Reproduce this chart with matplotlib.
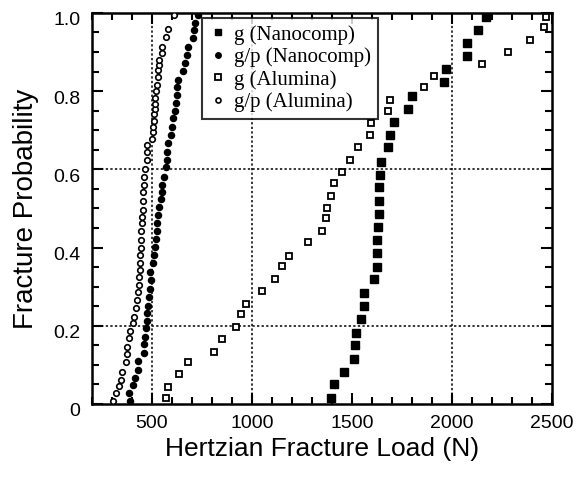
import matplotlib
matplotlib.use("Agg")
import matplotlib.pyplot as plt
import matplotlib.transforms as mtransforms
from matplotlib.ticker import MultipleLocator, FixedLocator

# g (Nanocomp) - filled squares
g_nano_load = [1395, 1412, 1458, 1509, 1514, 1522, 1543, 1560, 1562, 1612,
               1625, 1625, 1625, 1630, 1633, 1635, 1636, 1641, 1645, 1678,
               1692, 1708, 1781, 1801, 1958, 1970, 2075, 2075, 2130, 2172]
g_nano_prob = [0.015, 0.05, 0.083, 0.114, 0.15, 0.182, 0.217, 0.251, 0.283, 0.319,
               0.351, 0.385, 0.419, 0.452, 0.486, 0.518, 0.554, 0.586, 0.62, 0.657,
               0.688, 0.722, 0.754, 0.787, 0.824, 0.856, 0.89, 0.922, 0.957, 0.99]

# g/p (Nanocomp) - filled circles
gp_nano_load = [392, 387, 405, 417, 430, 430, 462, 463, 467, 472,
                478, 478, 483, 488, 492, 495, 492, 505, 512, 517,
                522, 525, 528, 533, 538, 545, 550, 553, 562, 572,
                575, 578, 583, 597, 603, 608, 617, 622, 625, 628,
                633, 655, 667, 675, 683, 708, 712, 717, 733]
gp_nano_prob = [0.008, 0.029, 0.049, 0.067, 0.087, 0.11, 0.13, 0.153, 0.172, 0.194,
                0.213, 0.232, 0.251, 0.274, 0.293, 0.317, 0.338, 0.36, 0.381, 0.402,
                0.421, 0.443, 0.462, 0.483, 0.505, 0.524, 0.543, 0.56, 0.581, 0.607,
                0.624, 0.645, 0.667, 0.688, 0.709, 0.731, 0.748, 0.769, 0.79, 0.81,
                0.829, 0.852, 0.871, 0.893, 0.914, 0.935, 0.957, 0.974, 0.995]

# g (Alumina) - open squares
g_alu_load = [570, 580, 637, 680, 810, 850, 921, 946, 970, 1052,
              1117, 1152, 1185, 1280, 1350, 1371, 1377, 1393, 1410, 1451,
              1491, 1530, 1591, 1597, 1680, 1692, 1858, 1908, 2150, 2278,
              2392, 2462, 2467]
g_alu_prob = [0.015, 0.043, 0.077, 0.107, 0.134, 0.166, 0.197, 0.229, 0.256, 0.29,
              0.319, 0.353, 0.379, 0.413, 0.442, 0.476, 0.501, 0.533, 0.564, 0.593,
              0.625, 0.657, 0.688, 0.718, 0.748, 0.777, 0.811, 0.84, 0.869, 0.90,
              0.931, 0.965, 0.99]

# g/p (Alumina) - open circles
gp_alu_load = [308, 322, 338, 345, 350, 372, 375, 375, 388, 392,
               408, 412, 422, 428, 433, 437, 438, 442, 442, 442,
               445, 445, 447, 450, 450, 455, 458, 458, 463, 463,
               466, 475, 475, 475, 503, 508, 508, 512, 513, 517,
               517, 517, 522, 525, 530, 530, 537, 538, 550, 553,
               572, 583, 613]
gp_alu_prob = [0.008, 0.029, 0.047, 0.061, 0.083, 0.107, 0.128, 0.147, 0.168, 0.187,
               0.206, 0.222, 0.245, 0.266, 0.287, 0.304, 0.324, 0.343, 0.36, 0.381,
               0.398, 0.419, 0.443, 0.462, 0.479, 0.496, 0.52, 0.541, 0.56, 0.581,
               0.601, 0.624, 0.645, 0.662, 0.678, 0.696, 0.709, 0.724, 0.741, 0.754,
               0.766, 0.783, 0.8, 0.816, 0.837, 0.854, 0.867, 0.88, 0.897, 0.914,
               0.939, 0.959, 0.995]

x_grid = [500, 1000, 2000]
y_grid = [0.2, 0.6]
y_ticks = [0, 0.2, 0.4, 0.6, 0.8, 1.0]
y_tick_labels = ["0", "0.2", "0.4", "0.6", "0.8", "1.0"]

plt.rcParams['font.family'] = ['Liberation Sans', 'DejaVu Sans']

fig = plt.figure(figsize=(5.78, 4.79), dpi=100)
ax = fig.add_axes([0.1587, 0.1566, 0.7965, 0.8164])

# dotted reference lines
for xv in x_grid:
    ax.axvline(xv, color='black', lw=1.1, ls=(0, (1.5, 1.5)), zorder=1)
for yv in y_grid:
    ax.axhline(yv, color='black', lw=1.1, ls=(0, (1.5, 1.5)), zorder=1)

ax.plot(g_nano_load, g_nano_prob, ls='none', marker='s', ms=5.2,
        mfc='black', mec='black', label='g (Nanocomp)', zorder=3)
ax.plot(gp_nano_load, gp_nano_prob, ls='none', marker='o', ms=4.4,
        mfc='black', mec='black', label='g/p (Nanocomp)', zorder=3)
ax.plot(g_alu_load, g_alu_prob, ls='none', marker='s', ms=5.0, mew=1.3,
        mfc='white', mec='black', label='g (Alumina)', zorder=3)
ax.plot(gp_alu_load, gp_alu_prob, ls='none', marker='o', ms=4.0, mew=1.2,
        mfc='white', mec='black', label='g/p (Alumina)', zorder=3)

ax.set_xlim(200, 2500)
ax.set_ylim(0, 1.0)
ax.xaxis.set_major_locator(FixedLocator([500, 1000, 1500, 2000, 2500]))
ax.xaxis.set_minor_locator(MultipleLocator(100))
ax.set_yticks(y_ticks)
ax.set_yticklabels(y_tick_labels)
ax.yaxis.set_minor_locator(MultipleLocator(0.05))

ax.tick_params(which='both', direction='in', top=True, right=True,
               labelsize=14, width=1.5)
ax.tick_params(which='major', length=8, pad=8)
ax.tick_params(which='minor', length=5)
for sp in ax.spines.values():
    sp.set_linewidth(1.8)

# y tick labels sit a little below their ticks in the original
shift = mtransforms.ScaledTranslation(0, -0.06, fig.dpi_scale_trans)
for lbl in ax.get_yticklabels():
    lbl.set_transform(lbl.get_transform() + shift)

ax.set_xlabel("Hertzian Fracture Load (N)", fontsize=19, labelpad=3.5)
ax.set_ylabel("Fracture Probability", fontsize=20, labelpad=10)

leg = ax.legend(loc='upper left', bbox_to_anchor=(0.2403, 0.9864),
                prop={'family': 'Liberation Serif', 'size': 15},
                frameon=True, fancybox=False, edgecolor='black',
                handlelength=0.9, handletextpad=0.3, labelspacing=0.13,
                borderpad=0.32, borderaxespad=0, markerscale=0.9)
leg.get_frame().set_linewidth(1.5)
leg.set_zorder(5)

fig.savefig("out.png", dpi=100)
